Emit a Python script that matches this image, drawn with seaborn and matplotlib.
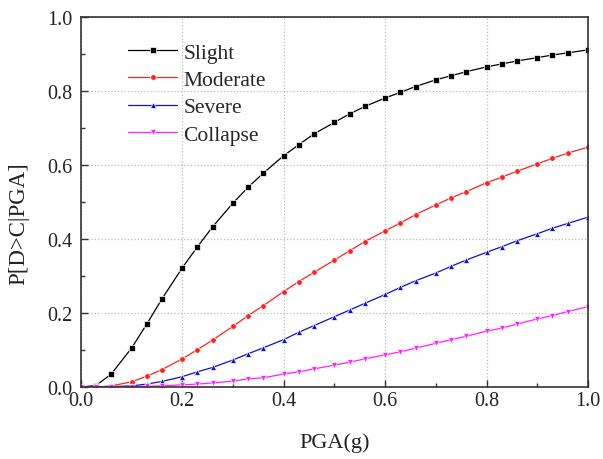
import numpy as np
import pandas as pd
import matplotlib
matplotlib.use("Agg")
import matplotlib.pyplot as plt
import seaborn as sns
from matplotlib.ticker import MultipleLocator, FormatStrFormatter

pga = [0.0, 0.03, 0.06, 0.10, 0.13, 0.16, 0.20, 0.23, 0.26, 0.30, 0.33,
       0.36, 0.40, 0.43, 0.46, 0.50, 0.53, 0.56, 0.60, 0.63, 0.66,
       0.70, 0.73, 0.76, 0.80, 0.83, 0.86, 0.90, 0.93, 0.96, 1.00]

slight = [0.0, 0.004, 0.035, 0.105, 0.170, 0.238, 0.322, 0.379, 0.433, 0.497, 0.540,
          0.578, 0.625, 0.655, 0.684, 0.715, 0.738, 0.758, 0.781, 0.796, 0.812,
          0.830, 0.841, 0.852, 0.865, 0.873, 0.881, 0.890, 0.897, 0.903, 0.911]
moderate = [0.0, 0.000, 0.003, 0.014, 0.029, 0.047, 0.076, 0.101, 0.127, 0.164, 0.193,
            0.220, 0.258, 0.285, 0.310, 0.343, 0.368, 0.393, 0.422, 0.443, 0.466,
            0.492, 0.511, 0.528, 0.552, 0.567, 0.583, 0.603, 0.618, 0.632, 0.648]
severe = [0.0, 0.000, 0.001, 0.003, 0.008, 0.015, 0.028, 0.041, 0.053, 0.073, 0.090,
          0.106, 0.128, 0.148, 0.166, 0.190, 0.208, 0.226, 0.250, 0.269, 0.287,
          0.308, 0.326, 0.343, 0.364, 0.379, 0.395, 0.414, 0.429, 0.442, 0.459]
collapse = [0.0, 0.000, 0.000, 0.001, 0.002, 0.003, 0.006, 0.008, 0.011, 0.016, 0.022,
            0.025, 0.035, 0.041, 0.049, 0.059, 0.067, 0.076, 0.087, 0.095, 0.105,
            0.118, 0.128, 0.137, 0.151, 0.159, 0.170, 0.184, 0.193, 0.204, 0.217]

series_names = ["Slight", "Moderate", "Severe", "Collapse"]
series_values = [slight, moderate, severe, collapse]
colors = {"Slight": "#000000", "Moderate": "#ff2020", "Severe": "#1010d0", "Collapse": "#ff20ff"}
marker_map = {"Slight": "s", "Moderate": "o", "Severe": "^", "Collapse": "v"}

df = pd.concat([pd.DataFrame({"PGA": pga, "P": v, "State": n})
                for n, v in zip(series_names, series_values)], ignore_index=True)

sns.set_style("white")
plt.rcParams["font.family"] = ["Liberation Serif", "DejaVu Serif"]

fig = plt.figure(figsize=(6.03, 4.60), dpi=100)
ax = fig.add_axes([0.134, 0.1565, 0.841, 0.8045])

sns.lineplot(data=df, x="PGA", y="P", hue="State", style="State",
             hue_order=series_names, style_order=series_names,
             palette=colors, markers=marker_map, dashes=False,
             linewidth=0.9, markersize=4, markeredgewidth=0.5, ax=ax)

ax.set_xlim(0, 1.0)
ax.set_ylim(0, 1.0)
ax.xaxis.set_major_locator(MultipleLocator(0.2))
ax.yaxis.set_major_locator(MultipleLocator(0.2))
ax.xaxis.set_minor_locator(MultipleLocator(0.1))
ax.yaxis.set_minor_locator(MultipleLocator(0.1))
ax.xaxis.set_major_formatter(FormatStrFormatter("%.1f"))
ax.yaxis.set_major_formatter(FormatStrFormatter("%.1f"))
ax.tick_params(which="major", direction="in", length=5, width=1, colors="#333333",
               labelsize=14.5, labelcolor="#222222", bottom=True, left=True, top=False, right=False)
ax.tick_params(which="minor", direction="in", length=3, width=1, colors="#333333",
               bottom=True, left=True, top=False, right=False)
ax.tick_params(axis="x", which="major", pad=3)
ax.tick_params(axis="y", which="major", pad=6)
ax.grid(True, which="major", linestyle=":", color="#bbbbbb", linewidth=0.9)
for s in ax.spines.values():
    s.set_color("#333333")
    s.set_linewidth(1.2)

ax.set_xlabel("PGA(g)", fontsize=16, color="#222222", labelpad=16)
ax.set_ylabel("P[D>C|PGA]", fontsize=16.5, color="#222222")
ax.yaxis.set_label_coords(-0.102, 0.445)

handles, labels = ax.get_legend_handles_labels()
ax.legend(handles, labels, loc="upper left", bbox_to_anchor=(0.093, 0.931),
          frameon=False, fontsize=15.5, handlelength=2.3, handletextpad=0.28,
          labelspacing=0.34, borderaxespad=0.0, borderpad=0.0)

fig.savefig("out.png", dpi=100)
